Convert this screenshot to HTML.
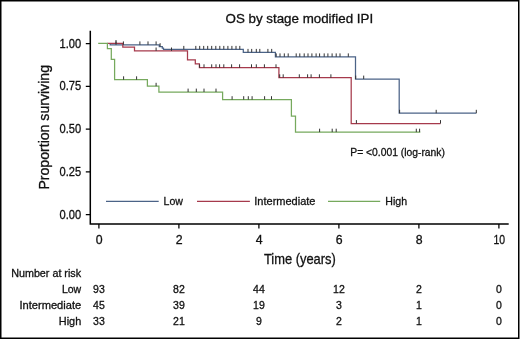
<!DOCTYPE html>
<html><head><meta charset="utf-8"><style>
html,body{margin:0;padding:0;background:#fff;}
svg{display:block;will-change:transform;}
text{font-family:"Liberation Sans",sans-serif;fill:#111;stroke:#111;stroke-width:0.3px;}
</style></head><body>
<svg width="520" height="339" viewBox="0 0 520 339">
<rect width="520" height="339" fill="#fff"/>
<rect x="0.75" y="0.75" width="518" height="337.5" fill="none" stroke="#000" stroke-width="1.5"/>
<text x="225.5" y="22.6" font-size="12.8" text-anchor="start" textLength="147.6" lengthAdjust="spacingAndGlyphs" >OS by stage modified IPI</text>
<text transform="translate(48.8 189.6) rotate(-90)" x="0" y="0" font-size="14.5" textLength="124.6" lengthAdjust="spacingAndGlyphs">Proportion surviving</text>
<path d="M90.3 30.8V224.6M89.6 223.9H508.7" stroke="#000" stroke-width="1.5" fill="none"/>
<path d="M85.8 43.6H90.3M85.8 86.35H90.3M85.8 129.1H90.3M85.8 171.85H90.3M85.8 214.6H90.3M98.9 223.9V228.6M178.9 223.9V228.6M258.9 223.9V228.6M338.9 223.9V228.6M418.9 223.9V228.6M498.9 223.9V228.6" stroke="#000" stroke-width="1.25" fill="none"/>
<text x="81.2" y="47.6" font-size="12" text-anchor="end" textLength="21.6" lengthAdjust="spacingAndGlyphs" >1.00</text>
<text x="81.2" y="90.35" font-size="12" text-anchor="end" textLength="21.6" lengthAdjust="spacingAndGlyphs" >0.75</text>
<text x="81.2" y="133.1" font-size="12" text-anchor="end" textLength="21.6" lengthAdjust="spacingAndGlyphs" >0.50</text>
<text x="81.2" y="175.85" font-size="12" text-anchor="end" textLength="21.6" lengthAdjust="spacingAndGlyphs" >0.25</text>
<text x="81.2" y="218.6" font-size="12" text-anchor="end" textLength="21.6" lengthAdjust="spacingAndGlyphs" >0.00</text>
<text x="99.2" y="243.8" font-size="12.3" text-anchor="middle" >0</text>
<text x="179.20000000000002" y="243.8" font-size="12.3" text-anchor="middle" >2</text>
<text x="259.2" y="243.8" font-size="12.3" text-anchor="middle" >4</text>
<text x="339.2" y="243.8" font-size="12.3" text-anchor="middle" >6</text>
<text x="419.2" y="243.8" font-size="12.3" text-anchor="middle" >8</text>
<text x="499.2" y="243.8" font-size="12.3" text-anchor="middle" textLength="11.6" lengthAdjust="spacingAndGlyphs" >10</text>
<text x="263.9" y="263.8" font-size="14.5" text-anchor="start" textLength="71.9" lengthAdjust="spacingAndGlyphs" >Time (years)</text>
<path d="M106 201.4H158.7" stroke="#4b6387" stroke-width="1.25"/>
<path d="M197 201.4H249.9" stroke="#a63a4c" stroke-width="1.25"/>
<path d="M328 201.4H380.2" stroke="#76a95d" stroke-width="1.25"/>
<text x="163.5" y="204.6" font-size="11.5" text-anchor="start" textLength="19.4" lengthAdjust="spacingAndGlyphs" >Low</text>
<text x="254.3" y="204.6" font-size="11.5" text-anchor="start" textLength="61.2" lengthAdjust="spacingAndGlyphs" >Intermediate</text>
<text x="385.3" y="204.6" font-size="11.5" text-anchor="start" textLength="21.8" lengthAdjust="spacingAndGlyphs" >High</text>
<text x="350.3" y="155.6" font-size="11.2" text-anchor="start" textLength="94.6" lengthAdjust="spacingAndGlyphs" >P= &lt;0.001 (log-rank)</text>
<path d="M110.2 43.6V44.8H159.3V46.6H162.3V48H163.5V49.3H243.3V52.3H275.4V56.8H355.5V79H399.2V113.2H476.3" stroke="#4b6387" stroke-width="1.25" fill="none"/>
<path d="M107.4 43.4H122.8V47.2H134.5V50.9H187.5V59.8H195.3V63.8H199.4V67.7H278.9V77.7H351.2V123.5H440.5" stroke="#a63a4c" stroke-width="1.25" fill="none"/>
<path d="M98.2 43.4H107.4V48.5H111.3V59.4H114.6V79.7H147.4V86.2H158.9V92H222.6V99.6H291.4V116H295.5V132.1H420.3" stroke="#76a95d" stroke-width="1.25" fill="none"/>
<path d="M116 41.4V44.8M123.4 41.4V44.8M139.9 41.4V44.8M148 41.4V44.8M156.1 41.4V44.8M160.1 43.2V46.6M183.8 45.9V49.3M195.8 45.9V49.3M199.7 45.9V49.3M203.7 45.9V49.3M207.7 45.9V49.3M211.7 45.9V49.3M215.8 45.9V49.3M219.8 45.9V49.3M223.8 45.9V49.3M227.9 45.9V49.3M231.9 45.9V49.3M236 45.9V49.3M239.8 45.9V49.3M248 48.9V52.3M251.7 48.9V52.3M256.3 48.9V52.3M259.8 48.9V52.3M267.9 48.9V52.3M271.7 48.9V52.3M276.2 53.4V56.8M280 53.4V56.8M284.3 53.4V56.8M288.2 53.4V56.8M296.2 53.4V56.8M299.8 53.4V56.8M304.2 53.4V56.8M308 53.4V56.8M311.9 53.4V56.8M316.1 53.4V56.8M319.6 53.4V56.8M324.2 53.4V56.8M327.9 53.4V56.8M332.1 53.4V56.8M336.2 53.4V56.8M340 53.4V56.8M348.3 53.4V56.8M355.7 75.6V79M363.7 75.6V79M399.6 109.8V113.2M436.2 109.8V113.2M476.3 109.8V113.2M116 40.0V43.4M156.1 47.5V50.9M171.5 47.5V50.9M199.6 64.3V67.7M204 64.3V67.7M211.7 64.3V67.7M216 64.3V67.7M219.6 64.3V67.7M223.8 64.3V67.7M231.6 64.3V67.7M239.6 64.3V67.7M251.5 64.3V67.7M256.3 64.3V67.7M264.4 64.3V67.7M276 64.3V67.7M279.7 74.3V77.7M283.2 74.3V77.7M299.3 74.3V77.7M307.6 74.3V77.7M311.1 74.3V77.7M319.4 74.3V77.7M330.9 74.3V77.7M356.4 120.1V123.5M440.5 120.1V123.5M123.6 76.3V79.7M136.6 76.3V79.7M156.1 82.8V86.2M188.1 88.6V92M196.3 88.6V92M204 88.6V92M216 88.6V92M232.1 96.2V99.6M243.7 96.2V99.6M248.3 96.2V99.6M252.1 96.2V99.6M264.6 96.2V99.6M271.5 96.2V99.6M319.6 128.7V132.1M332.2 128.7V132.1M336.2 128.7V132.1M416.3 128.7V132.1M419.6 128.7V132.1" stroke="#333333" stroke-width="1" fill="none"/>
<text x="11.2" y="276.7" font-size="10.5" text-anchor="start" textLength="69.9" lengthAdjust="spacingAndGlyphs" >Number at risk</text>
<text x="81.2" y="293.0" font-size="10.5" text-anchor="end" >Low</text>
<text x="98.9" y="293.0" font-size="10.5" text-anchor="middle" >93</text>
<text x="178.9" y="293.0" font-size="10.5" text-anchor="middle" >82</text>
<text x="258.9" y="293.0" font-size="10.5" text-anchor="middle" >44</text>
<text x="338.9" y="293.0" font-size="10.5" text-anchor="middle" >12</text>
<text x="418.9" y="293.0" font-size="10.5" text-anchor="middle" >2</text>
<text x="498.9" y="293.0" font-size="10.5" text-anchor="middle" >0</text>
<text x="81.2" y="309.0" font-size="10.5" text-anchor="end" textLength="61.8" lengthAdjust="spacingAndGlyphs" >Intermediate</text>
<text x="98.9" y="309.0" font-size="10.5" text-anchor="middle" >45</text>
<text x="178.9" y="309.0" font-size="10.5" text-anchor="middle" >39</text>
<text x="258.9" y="309.0" font-size="10.5" text-anchor="middle" >19</text>
<text x="338.9" y="309.0" font-size="10.5" text-anchor="middle" >3</text>
<text x="418.9" y="309.0" font-size="10.5" text-anchor="middle" >1</text>
<text x="498.9" y="309.0" font-size="10.5" text-anchor="middle" >0</text>
<text x="81.2" y="325.0" font-size="10.5" text-anchor="end" textLength="22.4" lengthAdjust="spacingAndGlyphs" >High</text>
<text x="98.9" y="325.0" font-size="10.5" text-anchor="middle" >33</text>
<text x="178.9" y="325.0" font-size="10.5" text-anchor="middle" >21</text>
<text x="258.9" y="325.0" font-size="10.5" text-anchor="middle" >9</text>
<text x="338.9" y="325.0" font-size="10.5" text-anchor="middle" >2</text>
<text x="418.9" y="325.0" font-size="10.5" text-anchor="middle" >1</text>
<text x="498.9" y="325.0" font-size="10.5" text-anchor="middle" >0</text>
</svg>
</body></html>
